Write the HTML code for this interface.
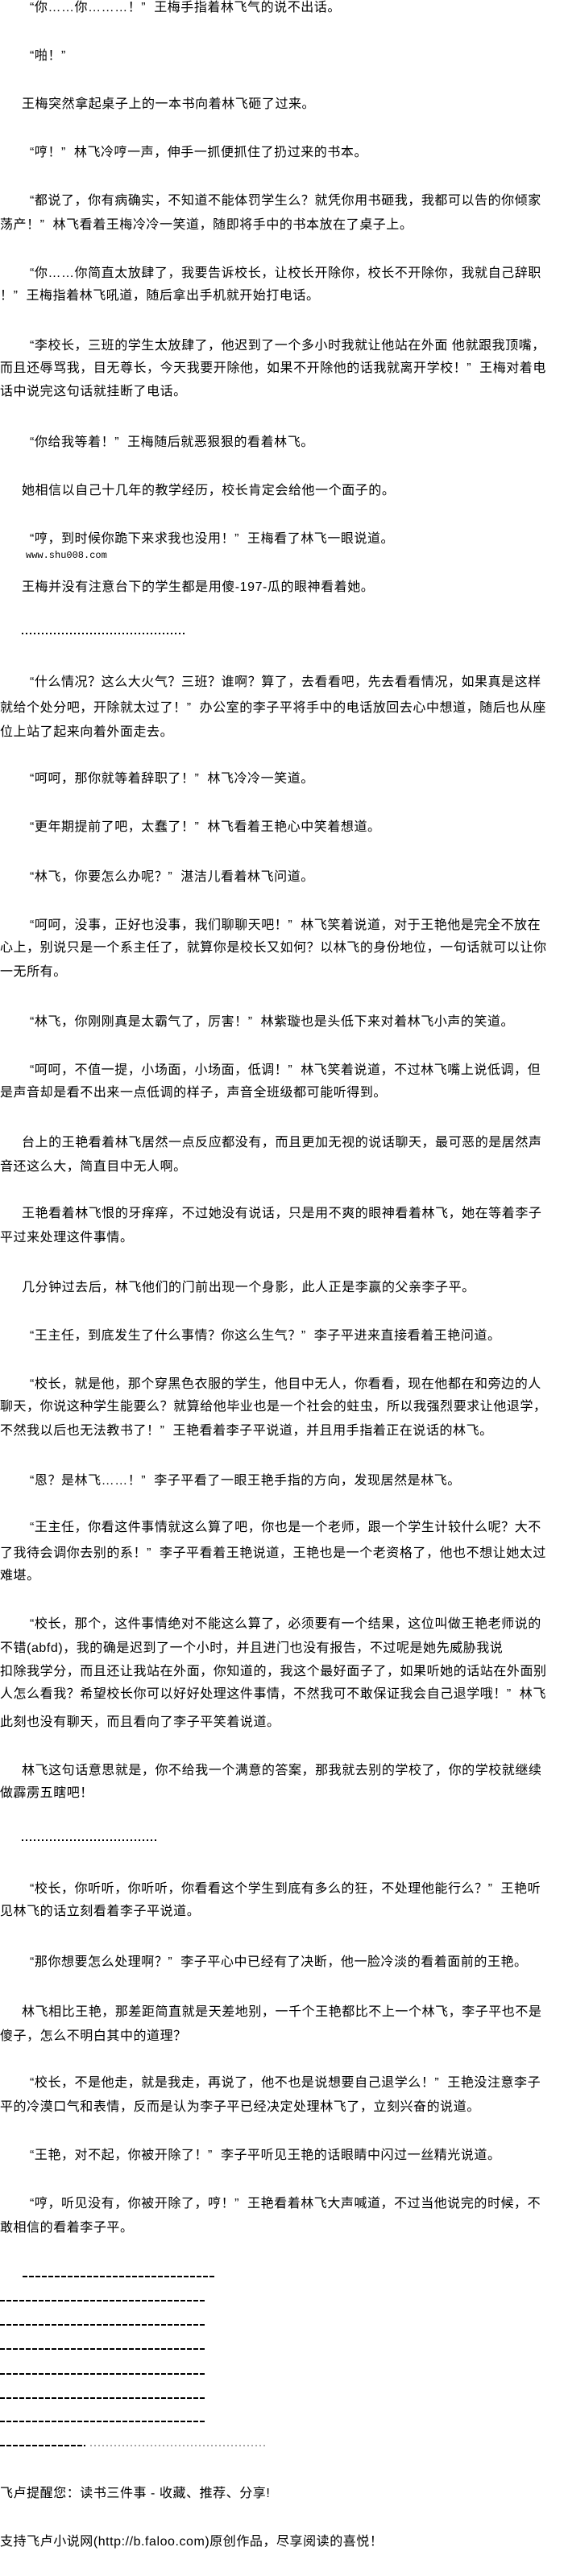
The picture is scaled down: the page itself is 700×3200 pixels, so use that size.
<!DOCTYPE html>
<html><head><meta charset="utf-8">
<style>
html,body{margin:0;padding:0;background:#fff;}
body{width:700px;height:3200px;position:relative;overflow:hidden;
font-family:"Liberation Sans","Noto Sans CJK SC",sans-serif;font-size:16px;color:#000;}
.l{position:absolute;left:0;height:28px;line-height:28px;white-space:nowrap;letter-spacing:0.55px;}
.i{left:27px;}
.o{padding-left:10px;}
.c{padding-right:10px;}
.u{position:absolute;left:32px;font-family:"Liberation Mono",monospace;font-size:12px;line-height:14px;white-space:nowrap;}
.d{position:absolute;height:2px;background:repeating-linear-gradient(90deg,#000 0 6px,transparent 6px 8px);}
.dot{position:absolute;left:27px;height:2px;background:repeating-linear-gradient(90deg,#000 0 2px,transparent 2px 5px);}
</style></head><body>
<div class="l i" style="top:-4px"><span class="o">“</span>你……你………！<span class="c">”</span>王梅手指着林飞气的说不出话。</div>
<div class="l i" style="top:56px"><span class="o">“</span>啪！<span class="c">”</span></div>
<div class="l i" style="top:116px">王梅突然拿起桌子上的一本书向着林飞砸了过来。</div>
<div class="l i" style="top:176px"><span class="o">“</span>哼！<span class="c">”</span>林飞冷哼一声，伸手一抓便抓住了扔过来的书本。</div>
<div class="l i" style="top:236px"><span class="o">“</span>都说了，你有病确实，不知道不能体罚学生么？就凭你用书砸我，我都可以告的你倾家</div>
<div class="l" style="top:266px">荡产！<span class="c">”</span>林飞看着王梅冷冷一笑道，随即将手中的书本放在了桌子上。</div>
<div class="l i" style="top:326px"><span class="o">“</span>你……你简直太放肆了，我要告诉校长，让校长开除你，校长不开除你，我就自己辞职</div>
<div class="l" style="top:354px">！<span class="c">”</span>王梅指着林飞吼道，随后拿出手机就开始打电话。</div>
<div class="l i" style="top:416px"><span class="o">“</span>李校长，三班的学生太放肆了，他迟到了一个多小时我就让他站在外面 他就跟我顶嘴，</div>
<div class="l" style="top:444px">而且还辱骂我，目无尊长，今天我要开除他，如果不开除他的话我就离开学校！<span class="c">”</span>王梅对着电</div>
<div class="l" style="top:473px">话中说完这句话就挂断了电话。</div>
<div class="l i" style="top:536px"><span class="o">“</span>你给我等着！<span class="c">”</span>王梅随后就恶狠狠的看着林飞。</div>
<div class="l i" style="top:596px">她相信以自己十几年的教学经历，校长肯定会给他一个面子的。</div>
<div class="l i" style="top:656px"><span class="o">“</span>哼，到时候你跪下来求我也没用！<span class="c">”</span>王梅看了林飞一眼说道。</div>
<div class="u" style="top:683px">www.shu008.com</div>
<div class="l i" style="top:716px">王梅并没有注意台下的学生都是用傻-197-瓜的眼神看着她。</div>
<div class="dot" style="top:786px;width:203px"></div>
<div class="l i" style="top:834px"><span class="o">“</span>什么情况？这么大火气？三班？谁啊？算了，去看看吧，先去看看情况，如果真是这样</div>
<div class="l" style="top:866px">就给个处分吧，开除就太过了！<span class="c">”</span>办公室的李子平将手中的电话放回去心中想道，随后也从座</div>
<div class="l" style="top:896px">位上站了起来向着外面走去。</div>
<div class="l i" style="top:954px"><span class="o">“</span>呵呵，那你就等着辞职了！<span class="c">”</span>林飞冷冷一笑道。</div>
<div class="l i" style="top:1014px"><span class="o">“</span>更年期提前了吧，太蠢了！<span class="c">”</span>林飞看着王艳心中笑着想道。</div>
<div class="l i" style="top:1076px"><span class="o">“</span>林飞，你要怎么办呢？<span class="c">”</span>湛洁儿看着林飞问道。</div>
<div class="l i" style="top:1136px"><span class="o">“</span>呵呵，没事，正好也没事，我们聊聊天吧！<span class="c">”</span>林飞笑着说道，对于王艳他是完全不放在</div>
<div class="l" style="top:1164px">心上，别说只是一个系主任了，就算你是校长又如何？以林飞的身份地位，一句话就可以让你</div>
<div class="l" style="top:1194px">一无所有。</div>
<div class="l i" style="top:1256px"><span class="o">“</span>林飞，你刚刚真是太霸气了，厉害！<span class="c">”</span>林紫璇也是头低下来对着林飞小声的笑道。</div>
<div class="l i" style="top:1316px"><span class="o">“</span>呵呵，不值一提，小场面，小场面，低调！<span class="c">”</span>林飞笑着说道，不过林飞嘴上说低调，但</div>
<div class="l" style="top:1344px">是声音却是看不出来一点低调的样子，声音全班级都可能听得到。</div>
<div class="l i" style="top:1406px">台上的王艳看着林飞居然一点反应都没有，而且更加无视的说话聊天，最可恶的是居然声</div>
<div class="l" style="top:1436px">音还这么大，简直目中无人啊。</div>
<div class="l i" style="top:1494px">王艳看着林飞恨的牙痒痒，不过她没有说话，只是用不爽的眼神看着林飞，她在等着李子</div>
<div class="l" style="top:1524px">平过来处理这件事情。</div>
<div class="l i" style="top:1586px">几分钟过去后，林飞他们的门前出现一个身影，此人正是李赢的父亲李子平。</div>
<div class="l i" style="top:1646px"><span class="o">“</span>王主任，到底发生了什么事情？你这么生气？<span class="c">”</span>李子平进来直接看着王艳问道。</div>
<div class="l i" style="top:1706px"><span class="o">“</span>校长，就是他，那个穿黑色衣服的学生，他目中无人，你看看，现在他都在和旁边的人</div>
<div class="l" style="top:1734px">聊天，你说这种学生能要么？就算给他毕业也是一个社会的蛀虫，所以我强烈要求让他退学，</div>
<div class="l" style="top:1764px">不然我以后也无法教书了！<span class="c">”</span>王艳看着李子平说道，并且用手指着正在说话的林飞。</div>
<div class="l i" style="top:1826px"><span class="o">“</span>恩？是林飞……！<span class="c">”</span>李子平看了一眼王艳手指的方向，发现居然是林飞。</div>
<div class="l i" style="top:1884px"><span class="o">“</span>王主任，你看这件事情就这么算了吧，你也是一个老师，跟一个学生计较什么呢？大不</div>
<div class="l" style="top:1916px">了我待会调你去别的系！<span class="c">”</span>李子平看着王艳说道，王艳也是一个老资格了，他也不想让她太过</div>
<div class="l" style="top:1944px">难堪。</div>
<div class="l i" style="top:2004px"><span class="o">“</span>校长，那个，这件事情绝对不能这么算了，必须要有一个结果，这位叫做王艳老师说的</div>
<div class="l" style="top:2034px">不错(abfd)，我的确是迟到了一个小时，并且进门也没有报告，不过呢是她先威胁我说</div>
<div class="l" style="top:2063px">扣除我学分，而且还让我站在外面，你知道的，我这个最好面子了，如果听她的话站在外面别</div>
<div class="l" style="top:2091px">人怎么看我？希望校长你可以好好处理这件事情，不然我可不敢保证我会自己退学哦！<span class="c">”</span>林飞</div>
<div class="l" style="top:2126px">此刻也没有聊天，而且看向了李子平笑着说道。</div>
<div class="l i" style="top:2186px">林飞这句话意思就是，你不给我一个满意的答案，那我就去别的学校了，你的学校就继续</div>
<div class="l" style="top:2214px">做霹雳五瞎吧！</div>
<div class="dot" style="top:2285px;width:168px"></div>
<div class="l i" style="top:2333px"><span class="o">“</span>校长，你听听，你听听，你看看这个学生到底有多么的狂，不处理他能行么？<span class="c">”</span>王艳听</div>
<div class="l" style="top:2361px">见林飞的话立刻看着李子平说道。</div>
<div class="l i" style="top:2424px"><span class="o">“</span>那你想要怎么处理啊？<span class="c">”</span>李子平心中已经有了决断，他一脸冷淡的看着面前的王艳。</div>
<div class="l i" style="top:2486px">林飞相比王艳，那差距简直就是天差地别，一千个王艳都比不上一个林飞，李子平也不是</div>
<div class="l" style="top:2516px">傻子，怎么不明白其中的道理？</div>
<div class="l i" style="top:2574px"><span class="o">“</span>校长，不是他走，就是我走，再说了，他不也是说想要自己退学么！<span class="c">”</span>王艳没注意李子</div>
<div class="l" style="top:2604px">平的冷漠口气和表情，反而是认为李子平已经决定处理林飞了，立刻兴奋的说道。</div>
<div class="l i" style="top:2664px"><span class="o">“</span>王艳，对不起，你被开除了！<span class="c">”</span>李子平听见王艳的话眼睛中闪过一丝精光说道。</div>
<div class="l i" style="top:2724px"><span class="o">“</span>哼，听见没有，你被开除了，哼！<span class="c">”</span>王艳看着林飞大声喊道，不过当他说完的时候，不</div>
<div class="l" style="top:2754px">敢相信的看着李子平。</div>
<div class="d" style="top:2827px;left:28px;width:240px"></div>
<div class="d" style="top:2857px;left:0;width:255px"></div>
<div class="d" style="top:2887px;left:0;width:255px"></div>
<div class="d" style="top:2917px;left:0;width:255px"></div>
<div class="d" style="top:2948px;left:0;width:255px"></div>
<div class="d" style="top:2978px;left:0;width:255px"></div>
<div class="d" style="top:3007px;left:0;width:255px"></div>
<div class="d" style="top:3037px;left:0;width:106px"></div>
<div class="dot" style="top:3037px;left:112px;width:220px;opacity:0.35"></div>
<div class="l" style="top:3084px">飞卢提醒您：读书三件事 - 收藏、推荐、分享!</div>
<div class="l" style="top:3144px">支持飞卢小说网(http://b.faloo.com)原创作品，尽享阅读的喜悦！</div>
</body></html>
